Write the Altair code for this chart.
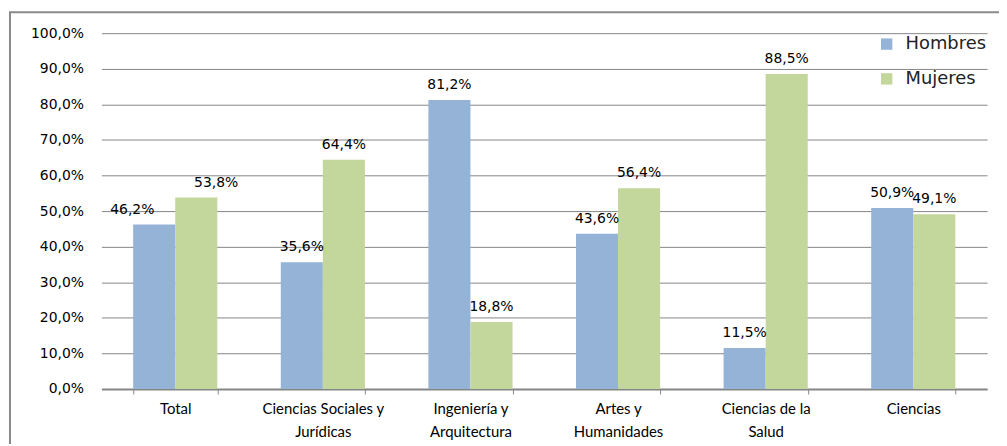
import altair as alt
import pandas as pd

categorias = ["Total", "Ciencias Sociales y Jurídicas", "Ingeniería y Arquitectura",
              "Artes y Humanidades", "Ciencias de la Salud", "Ciencias"]
hombres = [46.2, 35.6, 81.2, 43.6, 11.5, 50.9]
mujeres = [53.8, 64.4, 18.8, 56.4, 88.5, 49.1]
series = ["Hombres", "Mujeres"]
colores = ["#95B3D7", "#C3D69B"]
y_ticks = [0, 10, 20, 30, 40, 50, 60, 70, 80, 90, 100]

lineas = {
    "Ciencias Sociales y Jurídicas": ["Ciencias Sociales y", "Jurídicas"],
    "Ingeniería y Arquitectura": ["Ingeniería y", "Arquitectura"],
    "Artes y Humanidades": ["Artes y", "Humanidades"],
    "Ciencias de la Salud": ["Ciencias de la", "Salud"],
}

rows = []
for c, h, m in zip(categorias, hombres, mujeres):
    rows.append({"categoria": c, "sexo": series[0], "valor": h})
    rows.append({"categoria": c, "sexo": series[1], "valor": m})
df = pd.DataFrame(rows)

label_js = "{" + ", ".join(
    "'%s': [%s]" % (k, ", ".join("'%s'" % s for s in v)) for k, v in lineas.items()
) + "}"

W, H = 891, 358
LEFT = 94

x = alt.X("categoria:N", sort=categorias, title=None,
          scale=alt.Scale(paddingInner=0.43, paddingOuter=0.215),
          axis=alt.Axis(labelAngle=0, labelFont="Lato", labelFontSize=15,
                        labelColor="#000000", labelPadding=8, labelLineHeight=23,
                        labelExpr=label_js + "[datum.label] || datum.label",
                        domainColor="#868686", domainWidth=2, tickColor="#868686",
                        tickBand="extent", tickSize=5, tickWidth=1, grid=False))
y = alt.Y("valor:Q", title=None,
          scale=alt.Scale(domain=[0, 100], nice=False),
          axis=alt.Axis(values=y_ticks, labelExpr="replace(format(datum.value, '.1f'), '.', ',') + '%'",
                        labelFont="DejaVu Sans", labelFontSize=14, labelColor="#000000",
                        labelPadding=18, domain=False, ticks=False,
                        gridColor="#868686", gridWidth=1))
xo = alt.XOffset("sexo:N", sort=series)
color = alt.Color("sexo:N", sort=series, title=None,
                  scale=alt.Scale(domain=series, range=colores),
                  legend=alt.Legend(orient="none", legendX=781, legendY=2,
                                    symbolType="square", symbolSize=130,
                                    symbolStrokeWidth=0, labelFont="DejaVu Sans",
                                    labelFontSize=18, labelColor="#222222",
                                    labelOffset=10, rowPadding=17))

base = alt.Chart(df).transform_calculate(
    etiqueta="replace(format(datum.valor, '.1f'), '.', ',') + '%'"
)

bars = base.mark_bar(opacity=1).encode(x=x, y=y, xOffset=xo, color=color)

def texto(filtro, dx):
    return base.transform_filter(filtro).mark_text(
        font="DejaVu Sans", fontSize=14, color="#000000",
        baseline="alphabetic", dy=-11, dx=dx
    ).encode(x=x, y=y, xOffset=xo, text="etiqueta:N")

t_rest = texto("datum.categoria != 'Total'", 0)
t_th = texto("datum.categoria == 'Total' && datum.sexo == 'Hombres'", -22)
t_tm = texto("datum.categoria == 'Total' && datum.sexo == 'Mujeres'", 20)

borde = alt.Chart(pd.DataFrame({"b": [0]})).mark_rect(
    filled=False, stroke="#8a8a8a", strokeWidth=2
).encode(x=alt.value(-(LEFT + 8 - 10)), x2=alt.value(W + 60),
         y=alt.value(-21), y2=alt.value(H + 80))

chart = alt.layer(bars, t_rest, t_th, t_tm, borde).properties(
    width=W, height=H,
    autosize=alt.AutoSizeParams(type="none"),
    padding={"left": LEFT, "top": 24, "right": 12, "bottom": 54},
).configure_view(stroke=None)

chart.save("out.html", embed_options={"renderer": "svg", "actions": False})
